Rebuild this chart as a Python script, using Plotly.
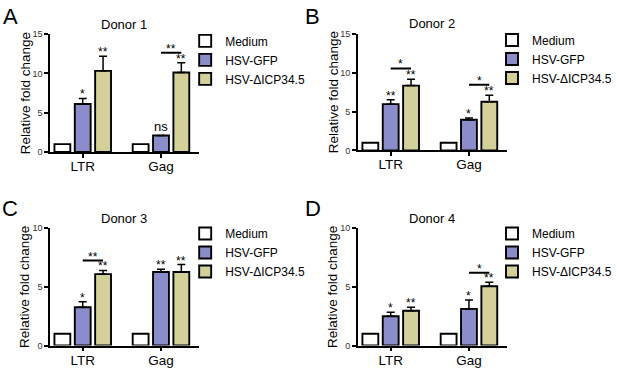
import plotly.graph_objects as go

W, H = 617, 371
FONT = "Liberation Sans, Arial, sans-serif"

categories = ["LTR", "Gag"]
groups = ["Medium", "HSV-GFP", "HSV-ΔICP34.5"]
colors = ["#ffffff", "#8a8dc9", "#d3d09a"]

donors = ["Donor 1", "Donor 2", "Donor 3", "Donor 4"]
letters = ["A", "B", "C", "D"]
y_title = "Relative fold change"

# values per donor: [LTR, Gag]
medium_vals = [[1, 1], [1, 1], [1, 1], [1, 1]]
gfp_vals = [[6.1, 2.1], [5.95, 3.95], [3.26, 6.27], [2.49, 3.12]]
icp_vals = [[10.33, 10.12], [8.33, 6.25], [6.08, 6.27], [2.96, 5.05]]
gfp_err = [[0.72, 0.0], [0.55, 0.21], [0.47, 0.22], [0.35, 0.75]]
icp_err = [[1.86, 1.24], [0.83, 0.85], [0.32, 0.63], [0.30, 0.34]]

gfp_sig = [["*", "ns"], ["**", "*"], ["*", "**"], ["*", "*"]]
icp_sig = [["**", "**"], ["**", "**"], ["**", "**"], ["**", "**"]]
# brackets: (category index, bracket height, label)
brackets = [[(1, 12.64, "**")], [(0, 10.54, "*"), (1, 8.45, "*")],
            [(0, 7.24, "**")], [(1, 6.21, "*")]]
y_max = [15, 15, 10, 10]
y_ticks = [[0, 5, 10, 15], [0, 5, 10, 15], [0, 5, 10], [0, 5, 10]]

# panel geometry in px: (left, right, top, bottom)
panels = [(50.5, 200.5, 30, 151), (361.5, 511.5, 29.5, 149.5),
          (50.5, 200.5, 229.3, 350), (361.5, 511.5, 229.3, 350)]
legend_pos = [(187, 22), (497, 21), (187, 220), (497, 220)]
letter_pos = [(11, 12), (316, 12), (10, 209), (316, 209)]

BARGAP = 0.22
BARGROUPGAP = 0.22
pitch = (1 - BARGAP) / 3

fig = go.Figure()
layout = dict(width=W, height=H, margin=dict(l=0, r=0, t=0, b=0),
              paper_bgcolor="white", plot_bgcolor="white",
              barmode="group", bargap=BARGAP, bargroupgap=BARGROUPGAP,
              font=dict(family=FONT, color="black"), showlegend=True)
shapes = []
annotations = []

for i in range(4):
    s = "" if i == 0 else str(i + 1)
    xa, ya = "x" + s, "y" + s
    leg = "legend" + s
    vals = [medium_vals[i], gfp_vals[i], icp_vals[i]]
    errs = [None, gfp_err[i], icp_err[i]]
    for g in range(3):
        ey = dict(visible=False)
        if errs[g] is not None:
            ey = dict(type="data", array=errs[g], arrayminus=[0, 0], symmetric=False,
                      color="black", thickness=1.5, width=4, visible=True)
        fig.add_trace(go.Bar(x=categories, y=vals[g], name=groups[g],
                             marker=dict(color=colors[g], line=dict(color="black", width=1.9)),
                             error_y=ey, xaxis=xa, yaxis=ya, legend=leg,
                             showlegend=True))
    l, r, t, b = panels[i]
    xkey = "xaxis" + s
    ykey = "yaxis" + s
    layout[xkey] = dict(domain=[l / W, r / W], anchor=ya, range=[-0.418, 1.48],
                        showline=True, linecolor="black", linewidth=1.6,
                        ticks="outside", ticklen=4, tickwidth=1.5, tickcolor="black",
                        tickfont=dict(size=13.5, family=FONT), showgrid=False,
                        ticklabelstandoff=-3,
                        zeroline=False, fixedrange=True)
    layout[ykey] = dict(domain=[1 - b / H, 1 - t / H], anchor=xa, range=[0, y_max[i]],
                        tickvals=y_ticks[i], showline=True, linecolor="black", linewidth=1.6,
                        ticks="outside", ticklen=4, tickwidth=1.5, tickcolor="black",
                        tickfont=dict(size=9, family=FONT, color="#333"),
                        showgrid=False, zeroline=False, fixedrange=True)
    # y-axis title
    annotations.append(dict(text=y_title, x=(l - 25) / W, y=1 - (t + b) / 2 / H,
                            xref="paper", yref="paper", showarrow=False, textangle=-90,
                            font=dict(size=13.5, family=FONT), xanchor="center",
                            yanchor="middle"))
    lx, ly = legend_pos[i]
    layout[leg] = dict(x=lx / W, y=1 - ly / H, xanchor="left", yanchor="top",
                       bgcolor="rgba(0,0,0,0)", font=dict(size=12, family=FONT),
                       itemclick=False, itemdoubleclick=False, tracegroupgap=0)
    # title
    annotations.append(dict(text=donors[i], x=(l + r) / 2 / W, y=1 - (t - 10) / H,
                            xref="paper", yref="paper", showarrow=False,
                            font=dict(size=13, family=FONT), xanchor="center", yanchor="middle"))
    # letter
    px, py = letter_pos[i]
    annotations.append(dict(text=letters[i], x=px / W, y=1 - py / H, xref="paper", yref="paper",
                            showarrow=False, font=dict(size=22, family=FONT),
                            xanchor="center", yanchor="middle"))
    # significance marks above bars
    for c in range(2):
        for g, (v, e, sig) in enumerate([(gfp_vals[i][c], gfp_err[i][c], gfp_sig[i][c]),
                                         (icp_vals[i][c], icp_err[i][c], icp_sig[i][c])]):
            is_ns = sig == "ns"
            annotations.append(dict(text=sig, x=c + g * pitch, y=v + e, xref=xa, yref=ya,
                                    showarrow=False, xanchor="center", yanchor="bottom",
                                    yshift=-1 if is_ns else -5,
                                    font=dict(size=13 if is_ns else 12, family=FONT)))
    for (c, h, lab) in brackets[i]:
        shapes.append(dict(type="line", xref=xa, yref=ya, x0=c, x1=c + pitch, y0=h, y1=h,
                           line=dict(color="black", width=2)))
        annotations.append(dict(text=lab, x=c + pitch / 2, y=h, xref=xa, yref=ya,
                                showarrow=False, xanchor="center", yanchor="bottom",
                                yshift=-5, font=dict(size=12, family=FONT)))

layout["shapes"] = shapes
layout["annotations"] = annotations
fig.update_layout(**layout)
fig.write_html("out.html", config={"displayModeBar": False},
               post_script="document.body.style.margin='0';document.body.style.overflow='hidden';")
